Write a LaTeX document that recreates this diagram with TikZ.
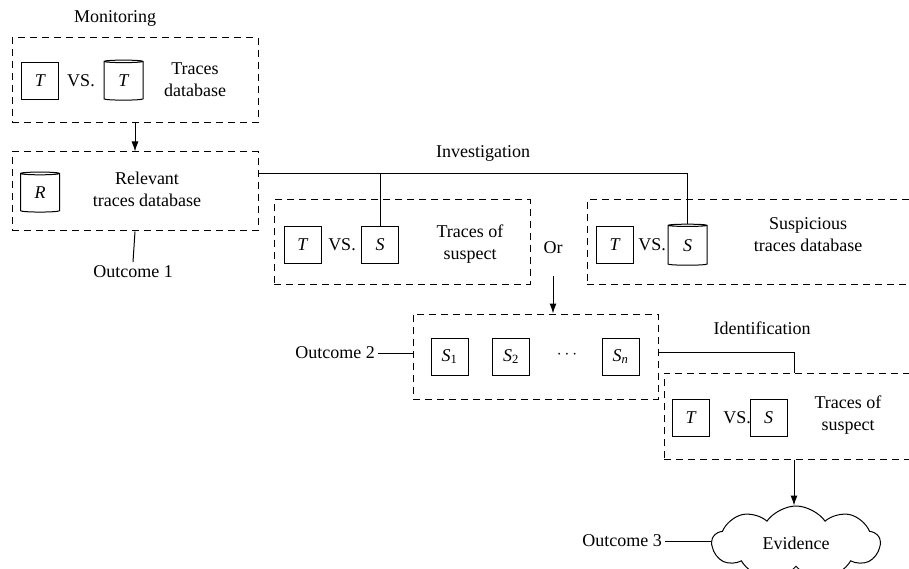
\documentclass[tikz,border=0pt]{standalone}
\usepackage{fontspec}
\setmainfont{Liberation Serif}
\usetikzlibrary{arrows.meta, shapes.geometric, shapes.symbols}
\newcommand\bigfont{\fontsize{18}{22}\selectfont}
\tikzset{
  grp/.style={draw, dash pattern=on 7pt off 5pt, line width=1pt},
  sq/.style={draw, line width=1pt, minimum size=37pt, inner sep=0pt, font=\bigfont\itshape},
  db/.style={draw, line width=1pt, cylinder, shape border rotate=90, aspect=0.25, minimum width=39pt, minimum height=40pt, inner sep=0pt, font=\bigfont\itshape},
  lbl/.style={align=center, inner sep=3pt},
  link/.style={line width=1pt},
  arr/.style={link, -{Latex[length=10pt,width=7pt]}}
}
\begin{document}
\begin{tikzpicture}[x=1pt, y=-1pt, font=\bigfont]
\useasboundingbox (0,0) rectangle (909,569);
\node[grp, minimum width=246pt, minimum height=85pt] (mon) at (135,80.5) {};
\node[grp, minimum width=246pt, minimum height=79pt] (rel) at (135,191.5) {};
\node[grp, minimum width=256pt, minimum height=84pt] (sus) at (402,242) {};
\node[grp, minimum width=353pt, minimum height=84pt] (sdb) at (763.5,242) {};
\node[grp, minimum width=245pt, minimum height=85pt] (cand) at (535.5,356.5) {};
\node[grp, minimum width=260pt, minimum height=86pt] (ident) at (794,416) {};

\node[lbl] (monlbl) at (115,18) {Monitoring};
\node[sq] (monT) at (40,81) {T};
\node (monvs) at (81,81) {VS.};
\node[db] (monDB) at (123.5,81) {T};
\node[lbl] (montxt) at (195,80) {Traces\\database};

\node[db] (relR) at (40,193) {R};
\node[lbl] (reltxt) at (147,189) {Relevant\\traces database};
\node[lbl, anchor=north] (out1) at (133,262) {Outcome 1};

\node[lbl] (invlbl) at (483,153) {Investigation};
\node[sq] (susT) at (302.5,245) {T};
\node (susvs) at (342,245) {VS.};
\node[sq] (susS) at (380,245) {S};
\node[lbl] (sustxt) at (470,244) {Traces of\\suspect};
\node[lbl] (orlbl) at (553,248) {Or};
\node[sq] (sdbT) at (614.5,245) {T};
\node (sdbvs) at (652,245) {VS.};
\node[db, minimum height=41pt] (sdbS) at (687.5,245.5) {S};
\node[lbl] (sdbtxt) at (808,235) {Suspicious\\traces database};

\node[lbl] (out2) at (335,353) {Outcome 2};
\node[sq] (c1) at (449.5,356.5) {S\textsubscript{\upshape 1}};
\node[sq] (c2) at (511,356.5) {S\textsubscript{\upshape 2}};
\node (cdots) at (567,355) {$\cdots$};
\node[sq] (cn) at (620.5,356.5) {S\textsubscript{n}};

\node[lbl] (idlbl) at (762,328) {Identification};
\node[sq] (idT) at (690.5,417.5) {T};
\node (idvs) at (737,417.5) {VS.};
\node[sq] (idS) at (768.5,417.5) {S};
\node[lbl] (idtxt) at (848,415) {Traces of\\suspect};

\node[draw, line width=1pt, cloud, cloud puffs=9, cloud puff arc=110, aspect=2.2, minimum width=168pt, minimum height=74pt] (ev) at (796,543) {Evidence};
\node[lbl] (out3) at (622,541) {Outcome 3};

\coordinate (inv) at ([yshift=17.5pt]rel.east);
\coordinate (orarr) at (553,276);
\draw[arr] (mon.south) -- (rel.north);
\draw[link] (rel.south) -- (out1.north);
\draw[link] (inv) -| (sdbS.north);
\draw[link] (susS.north) -- (susS.north |- inv);
\draw[arr] (orarr) -- (orarr |- cand.north);
\draw[link] (out2.east) -- (out2.east -| cand.west);
\draw[link] ([yshift=4.5pt]cand.east) -| (ident.north);
\draw[arr] (ident.south) -- (ident.south |- ev.north);
\draw[link] (out3.east) -- (out3.east -| ev.west);
\end{tikzpicture}
\end{document}
